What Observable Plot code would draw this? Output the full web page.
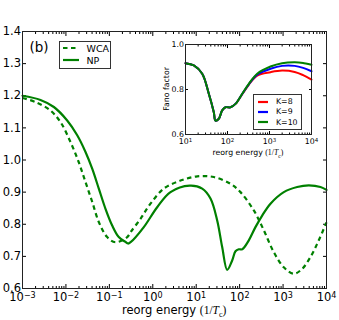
<!DOCTYPE html>
<html><head><meta charset="utf-8">
<script src="https://cdn.jsdelivr.net/npm/d3@7"></script>
<script src="https://cdn.jsdelivr.net/npm/@observablehq/plot@0.6"></script>
<style>
body{margin:0;background:#fff;font-family:"DejaVu Sans",sans-serif;}
#wrap{position:relative;width:339px;height:320px;overflow:hidden;background:#fff;}
#wrap > svg{position:absolute;}
.lab{position:absolute;white-space:nowrap;color:#000;line-height:1;font-family:"DejaVu Sans",sans-serif;}
.m{font-family:"Liberation Serif",serif;}
.box{position:absolute;border:1px solid #333;background:#fff;box-sizing:border-box;}
</style></head><body><div id="wrap"></div>
<script>
// ---- main panel data (x as log10 of reorg energy) ----
const npLogX = [-3,-2.586,-2.278,-1.971,-1.740,-1.549,-1.395,-1.243,-1.089,-0.935,-0.783,-0.629,-0.57,-0.51,-0.207,0.101,0.408,0.85,1.138,1.329,1.483,1.598,1.713,1.828,1.904,1.98,2.059,2.211,2.364,2.519,2.710,3.017,3.325,3.592,3.862,4];
const npY    = [1.200,1.187,1.165,1.123,1.077,1.025,0.973,0.911,0.848,0.796,0.760,0.745,0.740,0.744,0.791,0.853,0.900,0.920,0.911,0.880,0.812,0.729,0.658,0.687,0.716,0.722,0.722,0.750,0.791,0.827,0.864,0.900,0.916,0.921,0.916,0.907];
const wcaLogX = [-3,-2.694,-2.355,-2.125,-1.895,-1.704,-1.549,-1.395,-1.243,-1.05,-0.859,-0.589,-0.513,-0.283,-0.053,0.254,0.638,1.023,1.406,1.789,2.019,2.327,2.557,2.787,3.017,3.247,3.439,3.631,3.822,4];
const wcaY    = [1.193,1.180,1.154,1.118,1.056,0.993,0.931,0.870,0.807,0.760,0.744,0.760,0.775,0.817,0.864,0.911,0.936,0.949,0.947,0.926,0.900,0.843,0.781,0.713,0.666,0.646,0.661,0.698,0.750,0.806];
// ---- inset data ----
const insetLogX = [1,1.198,1.398,1.555,1.674,1.714,1.793,1.874,1.952,2.071,2.19,2.35,2.507,2.707,3.024,3.3,3.6,3.8,4];
const k8Y  = [0.917,0.907,0.870,0.781,0.699,0.662,0.670,0.707,0.721,0.721,0.736,0.779,0.821,0.862,0.877,0.884,0.878,0.864,0.844];
const k9Y  = [0.917,0.907,0.870,0.781,0.699,0.662,0.670,0.707,0.721,0.721,0.736,0.780,0.823,0.866,0.892,0.905,0.905,0.896,0.881];
const k10Y = [0.917,0.907,0.870,0.781,0.699,0.662,0.670,0.707,0.721,0.721,0.736,0.781,0.825,0.870,0.902,0.917,0.921,0.918,0.910];
// ---- ticks ----
const mainXTicks = [1e-3,1e-2,1e-1,1e0,1e1,1e2,1e3,1e4];
const mainYTicks = [0.6,0.7,0.8,0.9,1.0,1.1,1.2,1.3,1.4];
const insetXTicks = [1e1,1e2,1e3,1e4];
const insetYTicks = [0.6,0.8,1.0];

const toRows = (lx, ys) => lx.map((e, i) => ({x: 10 ** e, y: ys[i]}));
const minorOf = (ticks) => { const out = []; for (let i = 0; i < ticks.length - 1; i++) for (let m = 2; m <= 9; m++) out.push(m * ticks[i]); return out; };
const fmtPow = d => "10^" + Math.round(Math.log10(d));
const blank = () => "";
const GREEN = "#008000";

function axesSet(xT, yT, major, minor, fs, pad) {
  const xm = minorOf(xT);
  return [
    Plot.axisX({ticks: xT, anchor: "bottom", tickSize: 0, tickPadding: pad, tickFormat: fmtPow, label: null, fontSize: fs}),
    Plot.axisX({ticks: xT, anchor: "bottom", tickSize: -major, tickFormat: blank, label: null}),
    Plot.axisX({ticks: xT, anchor: "top", tickSize: -major, tickFormat: blank, label: null}),
    Plot.axisX({ticks: xm, anchor: "bottom", tickSize: -minor, tickFormat: blank, label: null}),
    Plot.axisX({ticks: xm, anchor: "top", tickSize: -minor, tickFormat: blank, label: null}),
    Plot.axisY({ticks: yT, anchor: "left", tickSize: 0, tickPadding: 1.5, tickFormat: d3.format(".1f"), label: null, fontSize: fs}),
    Plot.axisY({ticks: yT, anchor: "left", tickSize: -major, tickFormat: blank, label: null}),
    Plot.axisY({ticks: yT, anchor: "right", tickSize: -major, tickFormat: blank, label: null})
  ];
}

function superscripts(svg) {
  svg.querySelectorAll("text").forEach(t => {
    const m = t.textContent.match(/^10\^(-?\d+)$/);
    if (!m) return;
    t.textContent = "";
    const ns = "http://www.w3.org/2000/svg";
    const a = document.createElementNS(ns, "tspan"); a.textContent = "10";
    const b = document.createElementNS(ns, "tspan"); b.textContent = m[1].replace("-", "\u2212");
    b.setAttribute("dy", "-0.42em"); b.setAttribute("font-size", "70%");
    t.appendChild(a); t.appendChild(b);
  });
}

const wrap = document.getElementById("wrap");

const main = Plot.plot({
  width: 339, height: 320,
  marginLeft: 22, marginRight: 13, marginTop: 31, marginBottom: 32,
  style: {fontFamily: "DejaVu Sans", fontSize: "11.5px", color: "#000", background: "transparent", overflow: "visible"},
  x: {type: "log", domain: [1e-3, 1e4]},
  y: {domain: [0.6, 1.4]},
  marks: [
    ...axesSet(mainXTicks, mainYTicks, 4, 2, 11.5, 4.5),
    Plot.line(toRows(wcaLogX, wcaY), {x: "x", y: "y", stroke: GREEN, strokeWidth: 2.2, strokeDasharray: "4.5,3.5", strokeLinecap: "butt", curve: "catmull-rom"}),
    Plot.line(toRows(npLogX, npY), {x: "x", y: "y", stroke: GREEN, strokeWidth: 2.2, curve: "catmull-rom"}),
    Plot.frame({stroke: "#222", strokeWidth: 1})
  ]
});
superscripts(main);
main.style.left = "0px"; main.style.top = "0px";
wrap.appendChild(main);

const inset = Plot.plot({
  width: 180, height: 135,
  marginLeft: 35, marginRight: 19, marginTop: 14, marginBottom: 31,
  style: {fontFamily: "DejaVu Sans", fontSize: "7.8px", color: "#000", background: "transparent", overflow: "visible"},
  x: {type: "log", domain: [1e1, 1e4]},
  y: {domain: [0.6, 1.0]},
  marks: [
    ...axesSet(insetXTicks, insetYTicks, 3, 1.5, 7.8, 4),
    Plot.line(toRows(insetLogX, k8Y), {x: "x", y: "y", stroke: "#ff0000", strokeWidth: 2, curve: "catmull-rom"}),
    Plot.line(toRows(insetLogX, k9Y), {x: "x", y: "y", stroke: "#0000ff", strokeWidth: 2, curve: "catmull-rom"}),
    Plot.line(toRows(insetLogX, k10Y), {x: "x", y: "y", stroke: GREEN, strokeWidth: 2, curve: "catmull-rom"}),
    Plot.frame({stroke: "#222", strokeWidth: 1})
  ]
});
superscripts(inset);
inset.style.left = "150px"; inset.style.top = "30px";
wrap.appendChild(inset);

// ---- text labels & legends ----
function addLab(html, left, top, size, extra) {
  const d = document.createElement("div");
  d.className = "lab"; d.innerHTML = html;
  d.style.left = left + "px"; d.style.top = top + "px"; d.style.fontSize = size + "px";
  if (extra) Object.assign(d.style, extra);
  wrap.appendChild(d); return d;
}
function swatch(left, top, w, color, dash) {
  const ns = "http://www.w3.org/2000/svg";
  const s = document.createElementNS(ns, "svg");
  s.setAttribute("width", w); s.setAttribute("height", 4);
  s.style.position = "absolute"; s.style.left = left + "px"; s.style.top = (top - 2) + "px";
  const l = document.createElementNS(ns, "line");
  l.setAttribute("x1", 0); l.setAttribute("x2", w); l.setAttribute("y1", 2); l.setAttribute("y2", 2);
  l.setAttribute("stroke", color); l.setAttribute("stroke-width", 2.2);
  if (dash) l.setAttribute("stroke-dasharray", dash);
  s.appendChild(l); wrap.appendChild(s);
}

const xLabelHTML = 'reorg energy <span class="m">(1/<i>T</i><sub style="font-size:70%;">c</sub>)</span>';
const mx = addLab(xLabelHTML, 0, 305, 11.5);
mx.style.left = (174 - mx.offsetWidth / 2) + "px";
const ix = addLab(xLabelHTML, 0, 148.5, 7.8);
ix.style.left = (248 - ix.offsetWidth / 2) + "px";
const fy = addLab("Fano factor", 0, 0, 7.8);
fy.style.left = (166.5 - fy.offsetWidth / 2) + "px";
fy.style.top = (89 - fy.offsetHeight / 2) + "px";
fy.style.transform = "rotate(-90deg)";

addLab("(b)", 29.5, 40.5, 13.5);

// main legend
const lb = document.createElement("div"); lb.className = "box";
Object.assign(lb.style, {left: "59px", top: "41px", width: "52px", height: "28px"});
wrap.appendChild(lb);
const mainLegend = [{name: "WCA", dash: "4.5,3.5"}, {name: "NP", dash: null}];
mainLegend.forEach((e, i) => {
  const cy = 48.3 + i * 12;
  swatch(63, cy, 16, GREEN, e.dash);
  addLab(e.name, 86.5, cy - 4.6, 9.5);
});

// inset legend
const ib = document.createElement("div"); ib.className = "box";
Object.assign(ib.style, {left: "253px", top: "94px", width: "49px", height: "36px"});
wrap.appendChild(ib);
const insetLegend = [{name: "K=8", color: "#ff0000"}, {name: "K=9", color: "#0000ff"}, {name: "K=10", color: GREEN}];
insetLegend.forEach((e, i) => {
  const cy = [101.7, 111.7, 122.3][i];
  swatch(258, cy, 10, e.color, null);
  addLab(e.name, 276, cy - 3.8, 7.8);
});
</script></body></html>
